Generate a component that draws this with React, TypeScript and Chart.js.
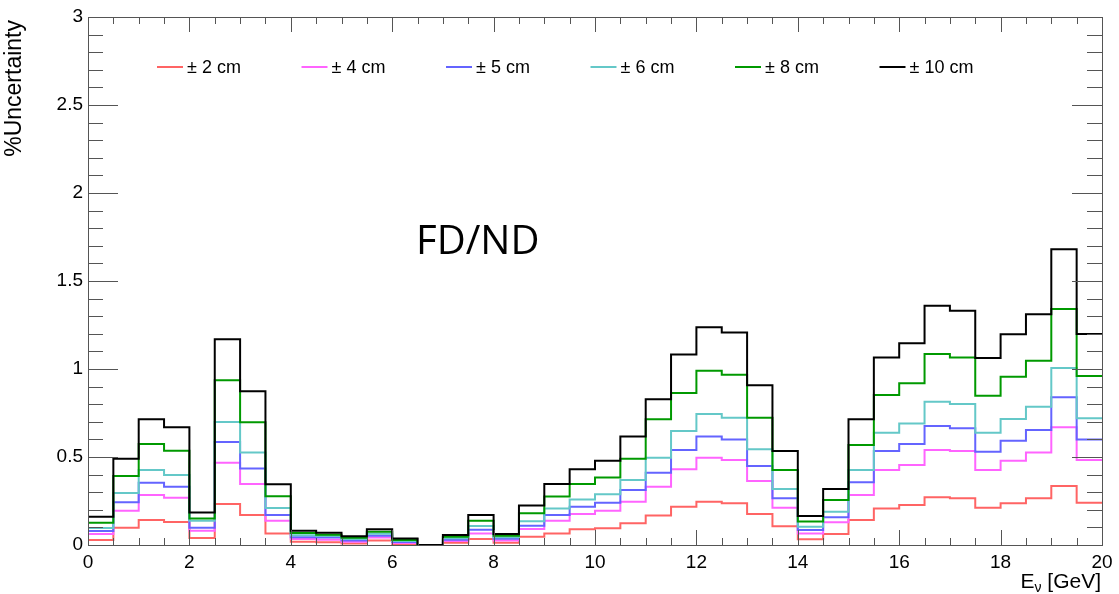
import React, { useEffect, useRef } from 'react';
import { Chart, registerables } from 'chart.js';

Chart.register(...registerables);

// Bin edges of the energy histogram (GeV)
const binEdges = [
  0, 0.5, 1, 1.5, 2, 2.5, 3, 3.5, 4, 4.5, 5, 5.5, 6, 6.5, 7, 7.5, 8, 8.5, 9, 9.5,
  10, 10.5, 11, 11.5, 12, 12.5, 13, 13.5, 14, 14.5, 15, 15.5, 16, 16.5, 17, 17.5, 18, 18.5, 19, 19.5, 20,
];

const seriesLabels = ['± 2 cm', '± 4 cm', '± 5 cm', '± 6 cm', '± 8 cm', '± 10 cm'];
const seriesColors = ['#ff6464', '#ff64ff', '#6464ff', '#64c8c8', '#009900', '#000000'];

const unc2cm = [
  0.028, 0.098, 0.142, 0.131, 0.04, 0.233, 0.17, 0.066, 0.019, 0.015,
  0.009, 0.025, 0.006, 0.0, 0.013, 0.034, 0.013, 0.047, 0.066, 0.089,
  0.095, 0.123, 0.167, 0.218, 0.246, 0.237, 0.176, 0.106, 0.032, 0.062,
  0.142, 0.208, 0.227, 0.271, 0.265, 0.212, 0.237, 0.265, 0.335, 0.24,
];
const unc4cm = [
  0.062, 0.195, 0.284, 0.269, 0.081, 0.468, 0.347, 0.138, 0.034, 0.03,
  0.019, 0.042, 0.011, 0.0, 0.023, 0.066, 0.025, 0.091, 0.138, 0.176,
  0.195, 0.246, 0.331, 0.43, 0.496, 0.483, 0.364, 0.212, 0.066, 0.129,
  0.284, 0.426, 0.455, 0.54, 0.534, 0.426, 0.479, 0.525, 0.669, 0.483,
];
const unc5cm = [
  0.08, 0.243, 0.354, 0.331, 0.098, 0.585, 0.434, 0.17, 0.044, 0.042,
  0.025, 0.053, 0.017, 0.0, 0.03, 0.087, 0.036, 0.11, 0.17, 0.218,
  0.24, 0.313, 0.411, 0.54, 0.616, 0.6, 0.449, 0.265, 0.085, 0.157,
  0.356, 0.534, 0.574, 0.676, 0.663, 0.53, 0.593, 0.653, 0.839, 0.6,
];
const unc6cm = [
  0.097, 0.295, 0.426, 0.398, 0.138, 0.699, 0.525, 0.21, 0.056, 0.051,
  0.034, 0.064, 0.023, 0.0, 0.038, 0.108, 0.044, 0.135, 0.208, 0.259,
  0.288, 0.369, 0.496, 0.648, 0.744, 0.723, 0.544, 0.318, 0.104, 0.189,
  0.426, 0.638, 0.691, 0.814, 0.801, 0.638, 0.716, 0.786, 1.006, 0.72,
];
const unc8cm = [
  0.127, 0.392, 0.574, 0.536, 0.15, 0.936, 0.697, 0.277, 0.068, 0.058,
  0.041, 0.075, 0.029, 0.0, 0.047, 0.138, 0.052, 0.18, 0.275, 0.347,
  0.383, 0.49, 0.714, 0.864, 0.99, 0.968, 0.723, 0.426, 0.133, 0.256,
  0.568, 0.852, 0.919, 1.085, 1.066, 0.848, 0.956, 1.047, 1.341, 0.96,
];
const unc10cm = [
  0.161, 0.49, 0.714, 0.669, 0.184, 1.169, 0.873, 0.345, 0.081, 0.07,
  0.05, 0.09, 0.037, 0.0, 0.057, 0.17, 0.062, 0.224, 0.347, 0.43,
  0.479, 0.616, 0.828, 1.083, 1.237, 1.208, 0.907, 0.534, 0.165, 0.318,
  0.714, 1.066, 1.146, 1.36, 1.331, 1.063, 1.197, 1.311, 1.68, 1.199,
];

const seriesValues = [unc2cm, unc4cm, unc5cm, unc6cm, unc8cm, unc10cm];

const xRange = [0, 20];
const yRange = [0, 3];
const xMajorStep = 2;
const xMinorStep = 0.5;
const yMajorStep = 0.5;
const yMinorStep = 0.1;

const yTitle = '%Uncertainty';
const annotationText = 'FD/ND';

function histPoints(values: number[]) {
  const pts = values.map((v, i) => ({ x: binEdges[i], y: v }));
  pts.push({ x: binEdges[values.length], y: values[values.length - 1] });
  return pts;
}

const rootStylePlugin = {
  id: 'rootStyle',
  afterDraw(chart: any) {
    const ctx = chart.ctx as CanvasRenderingContext2D;
    const { left, right, top, bottom } = chart.chartArea;
    const xs = chart.scales.x;
    const ys = chart.scales.y;
    ctx.save();

    // frame
    ctx.strokeStyle = '#555';
    ctx.lineWidth = 1;
    ctx.strokeRect(Math.round(left) + 0.5, Math.round(top) + 0.5, Math.round(right - left), Math.round(bottom - top));

    // x ticks (bottom & top)
    ctx.beginPath();
    for (let k = 0; k <= Math.round((xRange[1] - xRange[0]) / xMinorStep); k++) {
      const v = xRange[0] + k * xMinorStep;
      const major = Math.abs(v / xMajorStep - Math.round(v / xMajorStep)) < 1e-6;
      const len = major ? 15 : 7;
      const px = Math.round(xs.getPixelForValue(v)) + 0.5;
      ctx.moveTo(px, bottom);
      ctx.lineTo(px, bottom - len);
      ctx.moveTo(px, top);
      ctx.lineTo(px, top + len);
    }
    // y ticks (left & right)
    for (let k = 0; k <= Math.round((yRange[1] - yRange[0]) / yMinorStep); k++) {
      const v = yRange[0] + k * yMinorStep;
      const major = Math.abs(v / yMajorStep - Math.round(v / yMajorStep)) < 1e-6;
      const len = major ? 30 : 15;
      const py = Math.round(ys.getPixelForValue(v)) + 0.5;
      ctx.moveTo(left, py);
      ctx.lineTo(left + len, py);
      ctx.moveTo(right, py);
      ctx.lineTo(right - len, py);
    }
    ctx.stroke();

    // legend
    const ds = chart.data.datasets;
    const legendX0 = 157;
    const legendDX = 144.5;
    const legendY = 67;
    ctx.font = '18px "Liberation Sans", Arial, sans-serif';
    ctx.textBaseline = 'middle';
    ctx.textAlign = 'left';
    ds.forEach((d: any, i: number) => {
      const x = legendX0 + i * legendDX;
      ctx.strokeStyle = d.borderColor;
      ctx.lineWidth = 2;
      ctx.beginPath();
      ctx.moveTo(x, legendY);
      ctx.lineTo(x + 26, legendY);
      ctx.stroke();
      ctx.fillStyle = '#000';
      ctx.fillText(d.label, x + 30, legendY + 1);
    });

    // FD/ND annotation
    ctx.font = '40px "Open Sans", "Noto Sans", sans-serif';
    ctx.textBaseline = 'alphabetic';
    ctx.fillStyle = '#000';
    ctx.fillText(annotationText, 416, 254);

    // y title (rotated, aligned to top end)
    ctx.save();
    ctx.translate(21, 20);
    ctx.rotate(-Math.PI / 2);
    ctx.font = '23px "Liberation Sans", Arial, sans-serif';
    ctx.textAlign = 'right';
    ctx.textBaseline = 'alphabetic';
    ctx.fillText(yTitle, 0, 0);
    ctx.restore();

    // x title: E_nu [GeV], right aligned
    const bigFont = '21px "Liberation Sans", Arial, sans-serif';
    const smallFont = '14px "Liberation Sans", Arial, sans-serif';
    ctx.textAlign = 'left';
    ctx.textBaseline = 'alphabetic';
    ctx.font = bigFont;
    const wE = ctx.measureText('E').width;
    const wRest = ctx.measureText(' [GeV]').width;
    ctx.font = smallFont;
    const wNu = ctx.measureText('ν').width;
    const baseY = 588;
    let x = 1101 - (wE + wNu + wRest);
    ctx.font = bigFont;
    ctx.fillText('E', x, baseY);
    x += wE;
    ctx.font = smallFont;
    ctx.fillText('ν', x, baseY + 4);
    x += wNu;
    ctx.font = bigFont;
    ctx.fillText(' [GeV]', x, baseY);

    ctx.restore();
  },
};

export default function App() {
  const canvasRef = useRef<HTMLCanvasElement | null>(null);

  useEffect(() => {
    document.body.style.margin = '0';
    const canvas = canvasRef.current;
    if (!canvas) return;
    const chart = new Chart(canvas, {
      type: 'line',
      data: {
        datasets: seriesValues.map((vals, i) => ({
          label: seriesLabels[i],
          data: histPoints(vals),
          borderColor: seriesColors[i],
          backgroundColor: seriesColors[i],
          borderWidth: 2,
          pointRadius: 0,
          pointHoverRadius: 0,
          stepped: true,
          fill: false,
          order: seriesLabels.length - i,
        })),
      },
      options: {
        animation: false,
        responsive: false,
        devicePixelRatio: 1,
        parsing: false as any,
        layout: { padding: { left: 0, top: 17, right: 17, bottom: 0 } },
        plugins: {
          legend: { display: false },
          tooltip: { enabled: false },
          title: { display: false },
        },
        scales: {
          x: {
            type: 'linear',
            min: xRange[0],
            max: xRange[1],
            grid: { display: false, drawTicks: false },
            border: { display: false },
            ticks: {
              stepSize: xMajorStep,
              autoSkip: false,
              maxRotation: 0,
              padding: 6,
              color: '#000',
              font: { family: '"Liberation Sans", Arial, sans-serif', size: 19 },
              callback: (v: any) => `${Number(v)}`,
            },
            afterFit: (scale: any) => {
              scale.height = 49;
            },
          },
          y: {
            type: 'linear',
            min: yRange[0],
            max: yRange[1],
            grid: { display: false, drawTicks: false },
            border: { display: false },
            ticks: {
              stepSize: yMajorStep,
              autoSkip: false,
              padding: 5,
              color: '#000',
              font: { family: '"Liberation Sans", Arial, sans-serif', size: 19 },
              callback: (v: any) => `${Number(v)}`,
            },
            afterFit: (scale: any) => {
              scale.width = 88;
            },
          },
        },
      },
      plugins: [rootStylePlugin],
    });
    return () => chart.destroy();
  }, []);

  return (
    <div style={{ width: 1119, height: 594, position: 'relative' }}>
      <canvas ref={canvasRef} width={1119} height={594} />
    </div>
  );
}
